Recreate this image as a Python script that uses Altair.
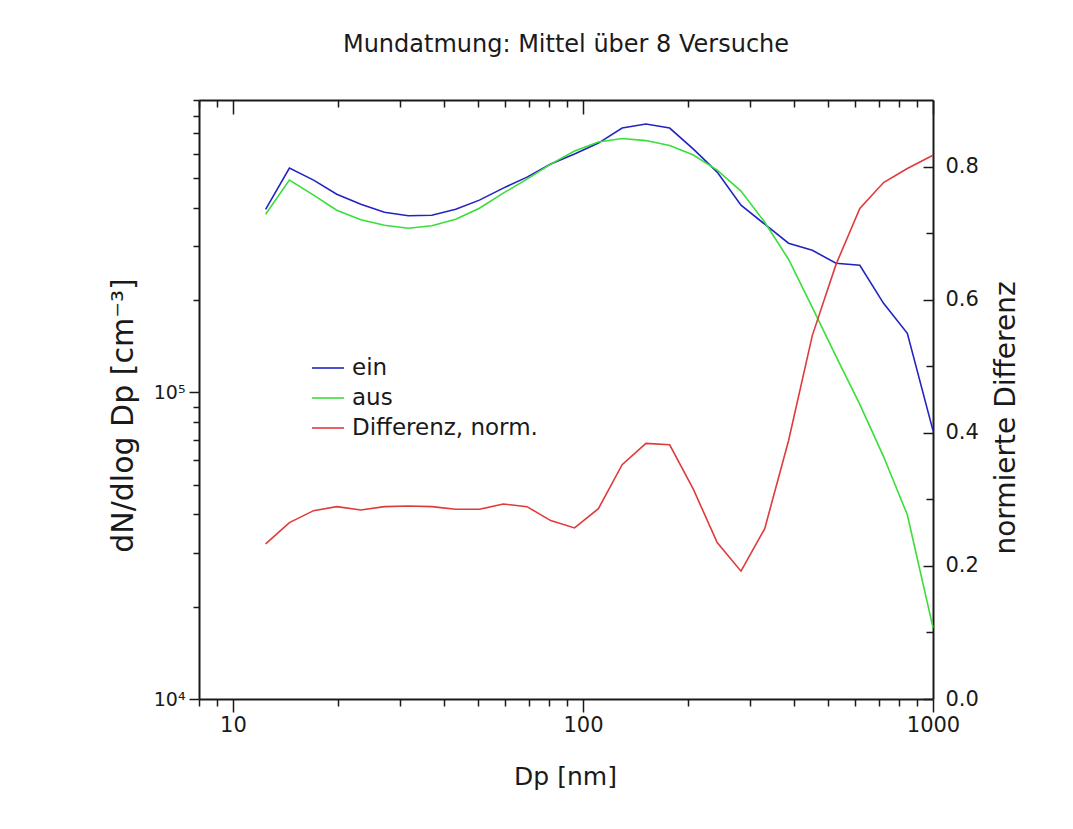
import altair as alt
import pandas as pd

# ---- data ----
dp = [12.4, 14.5, 17.0, 19.8, 23.2, 27.1, 31.7, 37.0, 43.3, 50.6, 59.2, 69.2, 80.9, 94.6,
      110.7, 129.4, 151.3, 176.9, 206.8, 241.8, 282.8, 330.6, 386.6, 452.0, 528.4, 617.9,
      722.4, 844.6, 1000.0]
ein = [396000, 539500, 493000, 443600, 411600, 387500, 377400, 378800, 396000, 424200,
       464200, 504300, 556200, 599600, 651200, 729100, 751400, 729100, 622500, 523600,
       408500, 354000, 306900, 291100, 264000, 260000, 195400, 155900, 75100]
aus = [381700, 493000, 440400, 393300, 366100, 351400, 343500, 350000, 367600, 399300,
       447100, 496800, 556200, 613300, 656100, 673600, 663500, 639100, 595100, 531600,
       453900, 359400, 272100, 189600, 131100, 91400, 61800, 39900, 17100]
diff = [0.233, 0.265, 0.283, 0.289, 0.284, 0.289, 0.290, 0.289, 0.285, 0.285, 0.293,
        0.289, 0.268, 0.257, 0.286, 0.352, 0.384, 0.382, 0.315, 0.235, 0.192, 0.256,
        0.388, 0.546, 0.653, 0.737, 0.776, 0.797, 0.817]

names = ["ein", "aus", "Differenz, norm."]
colors = ["#2323c4", "#3ade3a", "#e03a3a"]

x_major = [10, 100, 1000]
x_minor = [8, 9, 20, 30, 40, 50, 60, 70, 80, 90, 200, 300, 400, 500, 600, 700, 800, 900]
yl_major = [1e4, 1e5]
yl_minor = [2e4, 3e4, 4e4, 5e4, 6e4, 7e4, 8e4, 9e4, 2e5, 3e5, 4e5, 5e5, 6e5, 7e5, 8e5, 9e5]
yr_major = [0.0, 0.2, 0.4, 0.6, 0.8]
yr_minor = [0.1, 0.3, 0.5, 0.7]

df_n = pd.DataFrame({
    "Dp": dp + dp,
    "value": ein + aus,
    "series": [names[0]] * len(dp) + [names[1]] * len(dp),
})
df_d = pd.DataFrame({"Dp": dp, "value": diff, "series": [names[2]] * len(dp)})

W, H = 734, 599
FONT = "DejaVu Sans"
INK = "#1a1a1a"

xs = alt.Scale(type="log", domain=[8, 1000], nice=False)
yls = alt.Scale(type="log", domain=[1e4, 9e5], nice=False)
yrs = alt.Scale(type="linear", domain=[0, 0.9], nice=False, zero=False)

legend = alt.Legend(
    title=None, orient="none", legendX=112, legendY=251,
    symbolType="stroke", symbolSize=1024, symbolStrokeWidth=1.6,
    labelFont=FONT, labelFontSize=23, labelColor=INK, labelOffset=7, labelLimit=400,
    rowPadding=1, padding=0,
)
color = alt.Color("series:N", scale=alt.Scale(domain=names, range=colors), sort=names, legend=legend)

tick_common = dict(tickColor=INK, tickWidth=1.5, grid=False)

# Layer 1: ein / aus, bottom x axis and left y axis with labels
l1 = alt.Chart(df_n).mark_line(strokeWidth=1.6).encode(
    x=alt.X("Dp:Q", scale=xs, axis=alt.Axis(
        orient="bottom", values=x_major, labelExpr="format(datum.value, 'd')",
        title="Dp [nm]", tickSize=13, labelPadding=2,
        titleX=W / 2 - 1, titleY=77, titleBaseline="middle", titleAlign="center",
        labelFont=FONT, labelFontSize=21, labelColor=INK, labelFlush=False,
        titleFont=FONT, titleFontSize=25, titleFontWeight="normal", titleColor=INK,
        domainColor=INK, domainWidth=2, **tick_common)),
    y=alt.Y("value:Q", scale=yls, axis=alt.Axis(
        orient="left", values=yl_major,
        labelExpr="datum.value < 50000 ? '10⁴' : '10⁵'",
        title="dN/dlog Dp [cm⁻³]", tickSize=10, labelPadding=4,
        titleX=-76, titleY=315, titleBaseline="middle", titleAlign="center",
        titleAngle=270,
        labelFont=FONT, labelFontSize=19, labelColor=INK,
        titleFont=FONT, titleFontSize=30, titleFontWeight="normal", titleColor=INK,
        domainColor=INK, domainWidth=2, **tick_common)),
    color=color,
    detail="series:N",
)

# Layer 2: normalised difference, right axis labels and top axis (inward ticks)
l2 = alt.Chart(df_d).mark_line(strokeWidth=1.6).encode(
    x=alt.X("Dp:Q", scale=xs, axis=alt.Axis(
        orient="bottom", offset=-H, values=x_major, labels=False, title=None,
        tickSize=14, domainColor=INK, domainWidth=2, **tick_common)),
    y=alt.Y("value:Q", scale=yrs, axis=alt.Axis(
        orient="right", values=yr_major, format=".1f", ticks=False, labelPadding=12,
        title="normierte Differenz", titleAngle=270,
        titleX=73, titleY=H / 2 + 18, titleBaseline="middle", titleAlign="center",
        labelFont=FONT, labelFontSize=21, labelColor=INK,
        titleFont=FONT, titleFontSize=28, titleFontWeight="normal", titleColor=INK,
        domainColor=INK, domainWidth=2, grid=False)),
    color=color,
)

# Layer 3: minor ticks bottom / left
l3 = alt.Chart(df_n).mark_line(strokeOpacity=0).encode(
    x=alt.X("Dp:Q", scale=xs, axis=alt.Axis(
        orient="bottom", values=x_minor, labels=False, title=None, domain=False,
        tickSize=7, **tick_common)),
    y=alt.Y("value:Q", scale=yls, axis=alt.Axis(
        orient="left", values=yl_minor, labels=False, title=None, domain=False,
        tickSize=6, **tick_common)),
    detail="series:N",
)

# Layer 4: minor ticks top (inward), major ticks right (inward)
l4 = alt.Chart(df_d).mark_line(strokeOpacity=0).encode(
    x=alt.X("Dp:Q", scale=xs, axis=alt.Axis(
        orient="bottom", offset=-H, values=x_minor, labels=False, title=None,
        domain=False, tickSize=7, **tick_common)),
    y=alt.Y("value:Q", scale=yrs, axis=alt.Axis(
        orient="left", offset=-W, values=yr_major, labels=False, title=None,
        domain=False, tickSize=10, **tick_common)),
)

# Layer 5: minor ticks right (inward)
l5 = alt.Chart(df_d).mark_line(strokeOpacity=0).encode(
    x=alt.X("Dp:Q", scale=xs, axis=None),
    y=alt.Y("value:Q", scale=yrs, axis=alt.Axis(
        orient="left", offset=-W, values=yr_minor, labels=False, title=None,
        domain=False, tickSize=7, **tick_common)),
)

chart = alt.layer(l1, l2, l3, l4, l5).resolve_scale(
    y="independent"
).resolve_axis(
    x="independent", y="independent"
).properties(
    width=W, height=H,
    title=alt.TitleParams("Mundatmung: Mittel über 8 Versuche", font=FONT, fontSize=24,
                          fontWeight="normal", color=INK, anchor="middle", offset=42),
    autosize=alt.AutoSizeParams(type="none"),
    padding={"left": 199, "top": 100, "right": 140, "bottom": 130},
    background="white",
).configure_view(strokeWidth=0)

chart.save("out.html", embed_options={"renderer": "svg", "actions": False})
